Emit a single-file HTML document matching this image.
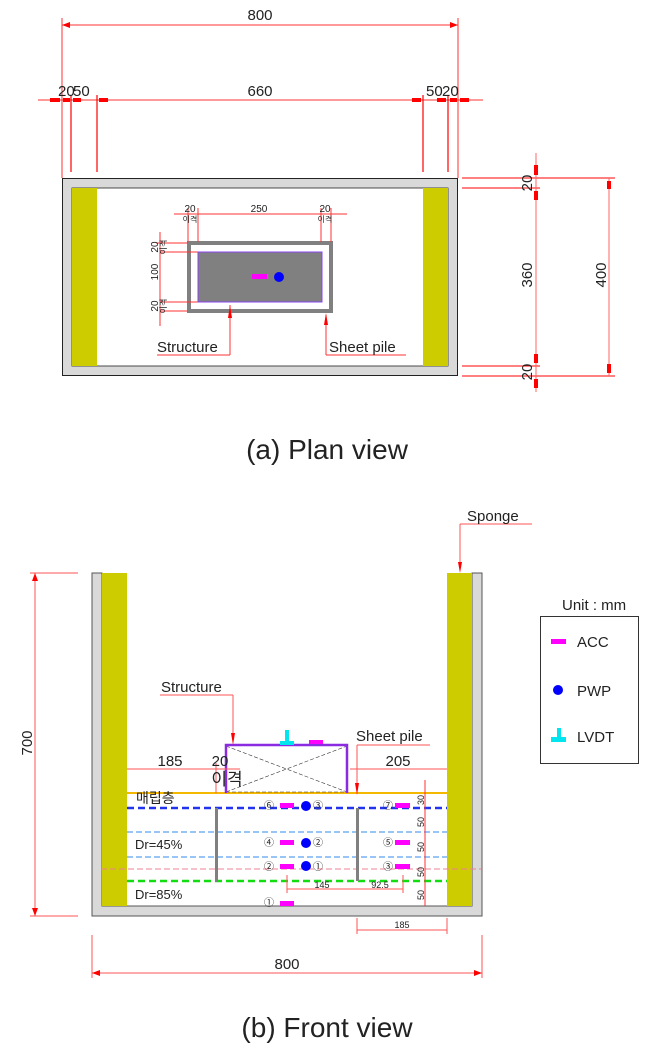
<!DOCTYPE html>
<html><head><meta charset="utf-8"><style>
html,body{margin:0;padding:0;background:#fff;}
svg{display:block;}
text{font-family:"Liberation Sans","Noto Sans CJK KR",sans-serif;fill:#222;}
</style></head><body>
<svg width="658" height="1047" viewBox="0 0 658 1047" xmlns="http://www.w3.org/2000/svg">
<defs>
<marker id="ar" markerWidth="8" markerHeight="6" refX="8" refY="3" orient="auto-start-reverse" markerUnits="userSpaceOnUse"><path d="M0,0 L8,3 L0,6z" fill="#f00"/></marker>
</defs>
<!-- ===== PLAN VIEW ===== -->
<g stroke="#f33" stroke-width="1" fill="none">
<line x1="62" y1="25" x2="458" y2="25" marker-start="url(#ar)" marker-end="url(#ar)"/>
<line x1="62" y1="18" x2="62" y2="178"/><line x1="458" y1="18" x2="458" y2="178"/>
<line x1="38" y1="100" x2="483" y2="100"/>
</g>
<g stroke="#f00" stroke-width="1.2">
<line x1="71" y1="95" x2="71" y2="172"/><line x1="97" y1="95" x2="97" y2="172"/>
<line x1="423" y1="95" x2="423" y2="172"/><line x1="448" y1="95" x2="448" y2="172"/>
</g>
<g fill="#f00">
<rect x="50" y="98" width="10" height="4"/><rect x="63" y="98" width="7" height="4"/><rect x="73" y="98" width="8" height="4"/><rect x="99" y="98" width="9" height="4"/>
<rect x="412" y="98" width="9" height="4"/><rect x="437" y="98" width="9" height="4"/><rect x="450" y="98" width="7" height="4"/><rect x="460" y="98" width="9" height="4"/>
</g>
<text x="260" y="20" font-size="15" text-anchor="middle">800</text>
<text x="58" y="96" font-size="15">20</text><text x="73" y="96" font-size="15">50</text>
<text x="260" y="96" font-size="15" text-anchor="middle">660</text>
<text x="426" y="96" font-size="15">50</text><text x="442" y="96" font-size="15">20</text>

<!-- plan box -->
<rect x="62.5" y="178.5" width="395" height="197" fill="#d9d9d9" stroke="#222" stroke-width="1"/>
<rect x="72" y="188" width="376" height="178" fill="#fff" stroke="#222" stroke-width="0.8"/>
<rect x="72" y="188" width="25" height="178" fill="#cccc00"/>
<rect x="423" y="188" width="25" height="178" fill="#cccc00"/>

<!-- right dims -->
<g stroke="#f00" stroke-width="1">
<line x1="462" y1="178" x2="615" y2="178"/><line x1="462" y1="188" x2="540" y2="188"/>
<line x1="462" y1="366" x2="540" y2="366"/><line x1="462" y1="376" x2="615" y2="376"/>
</g>
<line x1="536" y1="153" x2="536" y2="392" stroke="#f66"/>
<line x1="609" y1="178" x2="609" y2="376" stroke="#f66"/>
<g fill="#f00">
<rect x="534" y="165" width="4" height="10"/><rect x="534" y="191" width="4" height="9"/>
<rect x="534" y="354" width="4" height="9"/><rect x="534" y="379" width="4" height="9"/>
<rect x="607" y="181" width="4" height="8"/><rect x="607" y="364" width="4" height="9"/>
</g>
<text transform="translate(532,183) rotate(-90)" font-size="15" text-anchor="middle">20</text>
<text transform="translate(532,275) rotate(-90)" font-size="15" text-anchor="middle">360</text>
<text transform="translate(532,372) rotate(-90)" font-size="15" text-anchor="middle">20</text>
<text transform="translate(606,275) rotate(-90)" font-size="15" text-anchor="middle">400</text>

<!-- structure in plan -->
<rect x="189" y="243" width="142" height="68" fill="#fff" stroke="#808080" stroke-width="4"/>
<rect x="198" y="252" width="124" height="50" fill="#808080" stroke="#8844ee" stroke-width="1"/>
<rect x="252" y="274" width="15" height="5" fill="#ff00ff"/>
<circle cx="279" cy="277" r="5" fill="#0000ff"/>
<g stroke="#f33" stroke-width="1">
<line x1="174" y1="214" x2="347" y2="214"/>
<line x1="188" y1="208" x2="188" y2="242"/><line x1="198" y1="208" x2="198" y2="242"/>
<line x1="321" y1="208" x2="321" y2="242"/><line x1="331" y1="208" x2="331" y2="242"/>
<line x1="160" y1="232" x2="160" y2="326"/>
<line x1="156" y1="243" x2="188" y2="243"/><line x1="160" y1="252" x2="198" y2="252"/>
<line x1="160" y1="302" x2="198" y2="302"/><line x1="160" y1="311" x2="188" y2="311"/>
<line x1="157" y1="355" x2="230" y2="355"/><line x1="230" y1="305" x2="230" y2="355"/>
<line x1="326" y1="355" x2="406" y2="355"/><line x1="326" y1="315" x2="326" y2="355"/>
</g>
<path d="M228,318 L230,305 L232,318z M324,325 L326,313 L328,325z" fill="#f00"/>
<text x="190" y="212" font-size="10" text-anchor="middle">20</text>
<text x="259" y="212" font-size="10" text-anchor="middle">250</text>
<text x="325" y="212" font-size="10" text-anchor="middle">20</text>
<text x="190" y="222" font-size="8" text-anchor="middle">이격</text>
<text x="325" y="222" font-size="8" text-anchor="middle">이격</text>
<text transform="translate(158,247) rotate(-90)" font-size="10" text-anchor="middle">20</text>
<text transform="translate(166,247) rotate(-90)" font-size="8" text-anchor="middle">이격</text>
<text transform="translate(158,272) rotate(-90)" font-size="10" text-anchor="middle">100</text>
<text transform="translate(158,306) rotate(-90)" font-size="10" text-anchor="middle">20</text>
<text transform="translate(166,306) rotate(-90)" font-size="8" text-anchor="middle">이격</text>
<text x="157" y="352" font-size="15">Structure</text>
<text x="329" y="352" font-size="15">Sheet pile</text>
<text x="327" y="459" font-size="28" text-anchor="middle">(a)  Plan  view</text>

<!-- ===== FRONT VIEW ===== -->
<!-- tank -->
<path d="M92,573 L102,573 L102,906 L472,906 L472,573 L482,573 L482,916 L92,916z" fill="#d9d9d9" stroke="#555" stroke-width="1"/>
<rect x="102" y="573" width="25" height="333" fill="#cccc00"/>
<rect x="447" y="573" width="25" height="333" fill="#cccc00"/>

<!-- layers -->
<line x1="127" y1="793" x2="447" y2="793" stroke="#f5b800" stroke-width="2"/>
<line x1="127" y1="808" x2="447" y2="808" stroke="#2233ee" stroke-width="2.5" stroke-dasharray="7,4"/>
<line x1="127" y1="832" x2="447" y2="832" stroke="#3388ee" stroke-width="1" stroke-dasharray="6,3"/>
<line x1="127" y1="857" x2="447" y2="857" stroke="#3388ee" stroke-width="1" stroke-dasharray="6,3"/>
<line x1="101" y1="869" x2="481" y2="869" stroke="#f08090" stroke-width="1" stroke-dasharray="6,3"/>
<line x1="127" y1="881" x2="447" y2="881" stroke="#11dd11" stroke-width="2.5" stroke-dasharray="7,4"/>
<!-- sheet piles -->
<rect x="215" y="808" width="3" height="74" fill="#808080"/>
<rect x="356" y="808" width="3" height="73" fill="#808080"/>
<!-- structure -->
<g stroke="#333" stroke-width="0.6" stroke-dasharray="4,2"><line x1="226" y1="746" x2="347" y2="792"/><line x1="226" y1="792" x2="347" y2="746"/><line x1="226" y1="792" x2="347" y2="792"/></g>
<path d="M226,793 L226,745 L347,745 L347,793" fill="none" stroke="#8a2be2" stroke-width="2.5"/>
<rect x="280" y="741" width="14" height="4" fill="#00e5ee"/><rect x="285" y="730" width="4" height="12" fill="#00e5ee"/>
<rect x="309" y="740" width="14" height="4" fill="#ff00ff"/>

<!-- sensors -->
<g fill="#ff00ff">
<rect x="280" y="803" width="14" height="5"/><rect x="395" y="803" width="15" height="5"/>
<rect x="280" y="840" width="14" height="5"/><rect x="395" y="840" width="15" height="5"/>
<rect x="280" y="864" width="14" height="5"/><rect x="395" y="864" width="15" height="5"/>
<rect x="280" y="901" width="14" height="5"/>
</g>
<g fill="#0000ff"><circle cx="306" cy="806" r="5"/><circle cx="306" cy="843" r="5"/><circle cx="306" cy="866" r="5"/></g>
<g font-size="10" fill="#333">
<text x="264" y="809">⑥</text><text x="313" y="809">③</text><text x="383" y="809">⑦</text>
<text x="264" y="846">④</text><text x="313" y="846">②</text><text x="383" y="846">⑤</text>
<text x="264" y="870">②</text><text x="313" y="870">①</text><text x="383" y="870">③</text>
<text x="264" y="906">①</text>
</g>
<text x="136" y="803" font-size="14" fill="#555">매립층</text>
<text x="135" y="849" font-size="13">Dr=45%</text>
<text x="135" y="899" font-size="13">Dr=85%</text>

<!-- right small dims -->
<line x1="425" y1="780" x2="425" y2="906" stroke="#f33"/>
<g font-size="9" fill="#333">
<text transform="translate(424,800) rotate(-90)" text-anchor="middle">30</text>
<text transform="translate(424,822) rotate(-90)" text-anchor="middle">50</text>
<text transform="translate(424,847) rotate(-90)" text-anchor="middle">50</text>
<text transform="translate(424,872) rotate(-90)" text-anchor="middle">50</text>
<text transform="translate(424,895) rotate(-90)" text-anchor="middle">50</text>
</g>
<!-- top dims -->
<g stroke="#f55" stroke-width="1">
<line x1="127" y1="769" x2="240" y2="769"/><line x1="350" y1="769" x2="447" y2="769"/>
<line x1="216" y1="763" x2="216" y2="793"/>
<line x1="287" y1="875" x2="287" y2="893"/><line x1="403" y1="875" x2="403" y2="893"/>
<line x1="287" y1="889" x2="403" y2="889"/>
<line x1="357" y1="918" x2="357" y2="934"/><line x1="447" y1="918" x2="447" y2="934"/>
<line x1="357" y1="930" x2="447" y2="930"/>
<line x1="92" y1="935" x2="92" y2="978"/><line x1="482" y1="935" x2="482" y2="978"/>
<line x1="92" y1="973" x2="482" y2="973" marker-start="url(#ar)" marker-end="url(#ar)"/>
<line x1="30" y1="573" x2="78" y2="573"/><line x1="30" y1="916" x2="78" y2="916"/>
<line x1="35" y1="573" x2="35" y2="916" marker-start="url(#ar)" marker-end="url(#ar)"/>
<line x1="160" y1="695" x2="233" y2="695"/><line x1="233" y1="695" x2="233" y2="740"/>
<line x1="357" y1="745" x2="430" y2="745"/><line x1="357" y1="745" x2="357" y2="790"/>
<line x1="460" y1="524" x2="532" y2="524"/><line x1="460" y1="524" x2="460" y2="568"/>
</g>
<path d="M231,733 L233,745 L235,733z M355,783 L357,795 L359,783z M458,562 L460,573 L462,562z" fill="#f00"/>
<text x="170" y="766" font-size="15" text-anchor="middle">185</text>
<text x="220" y="766" font-size="15" text-anchor="middle">20</text>
<text x="227" y="785" font-size="17" text-anchor="middle">이격</text>
<text x="398" y="766" font-size="15" text-anchor="middle">205</text>
<text x="322" y="888" font-size="9" text-anchor="middle">145</text>
<text x="380" y="888" font-size="9" text-anchor="middle">92.5</text>
<text x="402" y="928" font-size="9" text-anchor="middle">185</text>
<text x="287" y="969" font-size="15" text-anchor="middle">800</text>
<text transform="translate(32,743) rotate(-90)" font-size="15" text-anchor="middle">700</text>
<text x="161" y="692" font-size="15">Structure</text>
<text x="356" y="741" font-size="15">Sheet pile</text>
<text x="467" y="521" font-size="15">Sponge</text>

<!-- legend -->
<text x="562" y="610" font-size="15">Unit : mm</text>
<rect x="540.5" y="616.5" width="98" height="147" fill="#fff" stroke="#333"/>
<rect x="551" y="639" width="15" height="5" fill="#ff00ff"/>
<text x="577" y="647" font-size="15">ACC</text>
<circle cx="558" cy="690" r="5" fill="#0000ff"/>
<text x="577" y="696" font-size="15">PWP</text>
<rect x="551" y="737" width="15" height="5" fill="#00e5ee"/><rect x="557" y="728" width="4" height="10" fill="#00e5ee"/>
<text x="577" y="742" font-size="15">LVDT</text>

<text x="327" y="1037" font-size="28" text-anchor="middle">(b)  Front  view</text>
</svg>
</body></html>
